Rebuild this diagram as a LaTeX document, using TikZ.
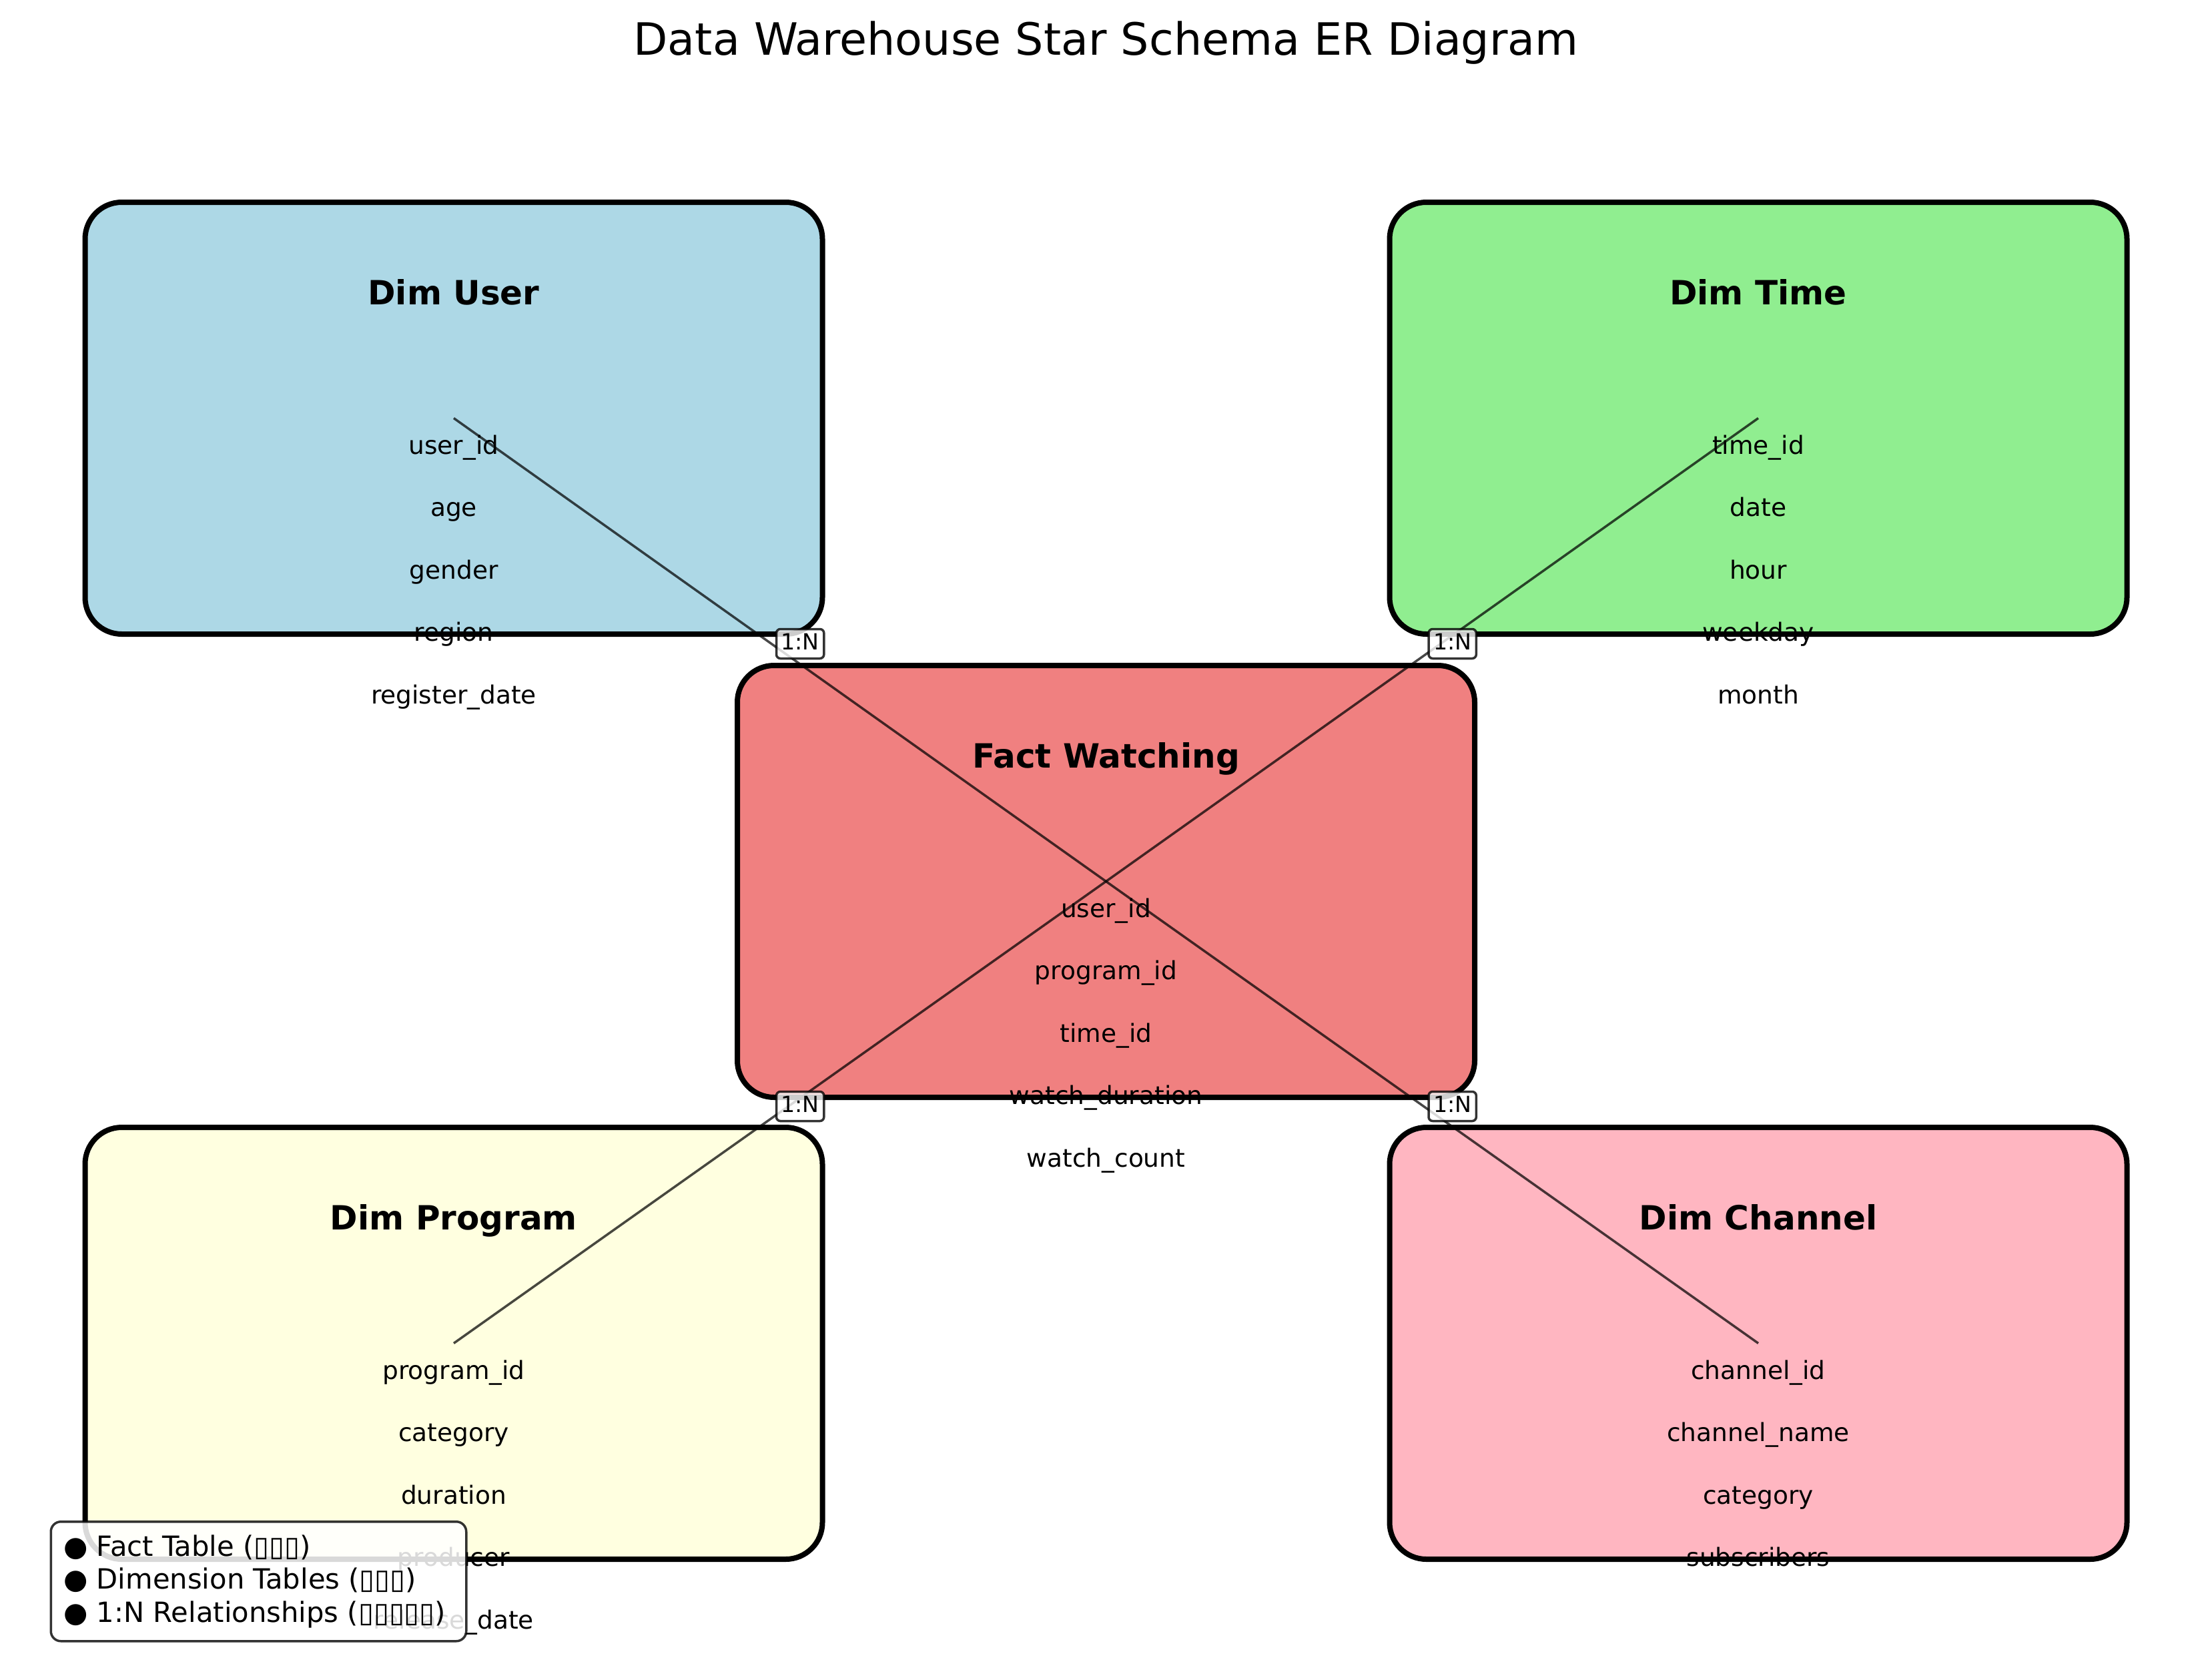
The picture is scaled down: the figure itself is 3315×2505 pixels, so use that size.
\documentclass[tikz,border=0pt]{standalone}
\usepackage{fontspec}
\setmainfont{DejaVu Sans}
\definecolor{userblue}{HTML}{ADD8E6}
\definecolor{timegreen}{HTML}{90EE90}
\definecolor{factred}{HTML}{F08080}
\definecolor{progyellow}{HTML}{FFFFE0}
\definecolor{chanpink}{HTML}{FFB6C1}
\begin{document}
\begin{tikzpicture}[x=1pt,y=-1pt,
  tbl/.style={draw=black, line width=8pt, rounded corners=55pt, minimum width=1105pt, minimum height=647pt, inner sep=0pt},
  ttl/.style={font=\fontsize{50}{60}\selectfont\bfseries, anchor=base, inner sep=0pt},
  attr/.style={font=\fontsize{37.5}{45}\selectfont, anchor=base, inner sep=0pt},
  rel/.style={draw=black, draw opacity=0.72, line width=3.5pt},
  lbl/.style={draw=black, draw opacity=0.8, fill=white, fill opacity=0.8, text opacity=1, rounded corners=6pt, line width=3.5pt, inner xsep=7pt, inner ysep=7pt, text height=24pt, text depth=6pt, font=\fontsize{33.3}{40}\selectfont, anchor=base west, xshift=-7pt},
  legtext/.style={font=\fontsize{41.7}{50}\selectfont, anchor=base west, inner sep=0pt}]
\useasboundingbox (0,0) rectangle (3315,2505);

\node[font=\fontsize{66.7}{80}\selectfont, anchor=base, inner sep=0pt] (title) at (1657.5,82) {Data Warehouse Star Schema ER Diagram};

\node[tbl, fill=userblue] (user) at (680,626.5) {};
\node[tbl, fill=timegreen] (time) at (2635,626.5) {};
\node[tbl, fill=factred] (fact) at (1657.5,1320.5) {};
\node[tbl, fill=progyellow] (prog) at (680,2012.5) {};
\node[tbl, fill=chanpink] (chan) at (2635,2012.5) {};

\path (user.center) ++(0,-170) node[ttl] (user-t) {Dim User};
\path (time.center) ++(0,-170) node[ttl] (time-t) {Dim Time};
\path (fact.center) ++(0,-170) node[ttl] (fact-t) {Fact Watching};
\path (prog.center) ++(0,-170) node[ttl] (prog-t) {Dim Program};
\path (chan.center) ++(0,-170) node[ttl] (chan-t) {Dim Channel};

\foreach \tb/\names in {user/{user\_id,age,gender,region,register\_date},
  time/{time\_id,date,hour,weekday,month},
  fact/{user\_id,program\_id,time\_id,watch\_duration,watch\_count},
  prog/{program\_id,category,duration,producer,release\_date},
  chan/{channel\_id,channel\_name,category,subscribers}}
{
  \foreach \nm [count=\i from 0] in \names {
    \path (\tb.center) ++(0,54+93.4*\i) node[attr] (\tb-a\i) {\nm};
  }
}

\draw[rel] (user.center) -- (fact.center) coordinate[pos=0.5] (m-user);
\draw[rel] (time.center) -- (fact.center) coordinate[pos=0.5] (m-time);
\draw[rel] (fact.center) -- (prog.center) coordinate[pos=0.5] (m-prog);
\draw[rel] (fact.center) -- (chan.center) coordinate[pos=0.5] (m-chan);

\node[lbl] (l-user) at (m-user) {1:N};
\node[lbl] (l-time) at (m-time) {1:N};
\node[lbl] (l-prog) at (m-prog) {1:N};
\node[lbl] (l-chan) at (m-chan) {1:N};

\node[draw=black, draw opacity=0.8, fill=white, fill opacity=0.85, line width=3.5pt, rounded corners=15pt, minimum width=622.5pt, minimum height=179pt, inner sep=0pt, anchor=north west] (legend) at (74.5,2278) {};
\node[legtext] (leg1) at (95,2331.7) {● Fact Table (▯▯▯)};
\node[legtext] (leg2) at (95,2380.7) {● Dimension Tables (▯▯▯)};
\node[legtext] (leg3) at (95,2430) {● 1:N Relationships (▯▯▯▯▯)};
\end{tikzpicture}
\end{document}
